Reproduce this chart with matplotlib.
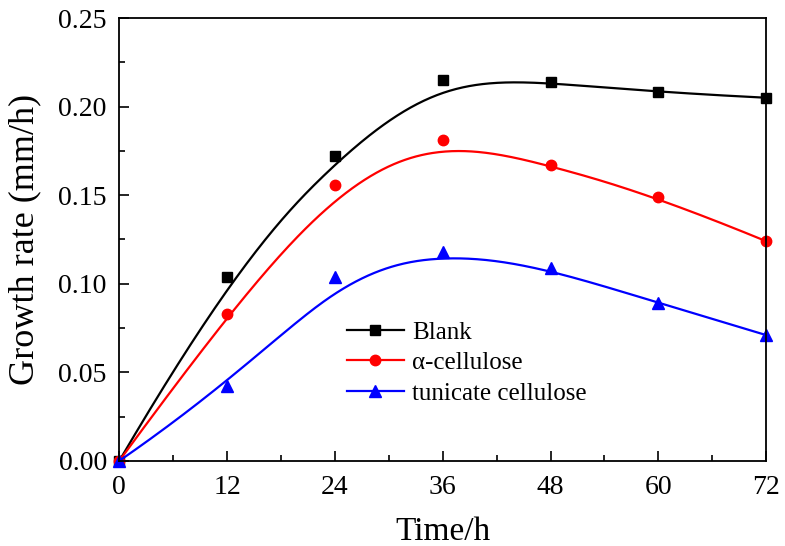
import numpy as np
import matplotlib
matplotlib.use("Agg")
from matplotlib import pyplot as plt
from matplotlib.ticker import MultipleLocator, FormatStrFormatter

time_h = [0, 12, 24, 36, 48, 60, 72]
blank = [0.0, 0.104, 0.172, 0.215, 0.214, 0.208, 0.205]
alpha_cell = [0.0, 0.083, 0.156, 0.181, 0.167, 0.149, 0.124]
tunicate = [0.0, 0.042, 0.104, 0.118, 0.109, 0.089, 0.071]

plt.rcParams['font.family'] = ['Liberation Serif', 'DejaVu Serif']


def bspline(px, py, k=3, n=400):
    # clamped B-spline using the data points as control points
    px = np.asarray(px, float)
    py = np.asarray(py, float)
    m = len(px)
    knots = np.concatenate([np.zeros(k), np.linspace(0, 1, m - k + 1), np.ones(k)])
    t = np.linspace(0, 1, n)
    t[-1] = 1 - 1e-12
    B = np.zeros((n, len(knots) - 1))
    for i in range(len(knots) - 1):
        B[:, i] = (t >= knots[i]) & (t < knots[i + 1])
    for d in range(1, k + 1):
        Bn = np.zeros((n, len(knots) - 1 - d))
        for i in range(len(knots) - 1 - d):
            a = knots[i + d] - knots[i]
            b = knots[i + d + 1] - knots[i + 1]
            left = (t - knots[i]) / a * B[:, i] if a > 0 else 0
            right = (knots[i + d + 1] - t) / b * B[:, i + 1] if b > 0 else 0
            Bn[:, i] = left + right
        B = Bn
    return B @ px, B @ py


fig = plt.figure(figsize=(7.85, 5.46), dpi=100)
ax = fig.add_axes([0.152, 0.156, 0.824, 0.811])

series = [
    (blank, 'black', 's', 'Blank', 6.5),
    (alpha_cell, 'red', 'o', '\u03b1-cellulose', 7.5),
    (tunicate, 'blue', '^', 'tunicate cellulose', 8),
]
for vals, col, mk, lab, ms in series:
    cx, cy = bspline(time_h, vals)
    ax.plot(cx, cy, color=col, lw=1.6, clip_on=False)
    ax.plot(time_h, vals, linestyle='none', marker=mk, color=col, ms=ms, clip_on=False)
    ax.plot([], [], color=col, marker=mk, ms=ms, lw=1.6, label=lab)

ax.set_xlim(0, 72)
ax.set_ylim(0, 0.25)
ax.xaxis.set_major_locator(MultipleLocator(12))
ax.xaxis.set_minor_locator(MultipleLocator(6))
ax.yaxis.set_major_locator(MultipleLocator(0.05))
ax.yaxis.set_minor_locator(MultipleLocator(0.025))
ax.yaxis.set_major_formatter(FormatStrFormatter('%.2f'))
ax.tick_params(which='both', direction='in', top=False, right=False, labelsize=20)
ax.tick_params(axis='x', pad=10)
ax.tick_params(axis='y', pad=9)
ax.tick_params(which='major', length=7, width=1.2)
ax.tick_params(which='minor', length=4, width=1.2)
for sp in ax.spines.values():
    sp.set_linewidth(1.3)

ax.set_xlabel('Time/h', fontsize=24, labelpad=12)
ax.set_ylabel('Growth rate (mm/h)', fontsize=26, labelpad=12)

ax.legend(loc='center left', bbox_to_anchor=(0.336, 0.221), frameon=False,
          fontsize=18, handlelength=2.3, labelspacing=0.32, handletextpad=0.32,
          borderaxespad=0)

fig.savefig('out.png', dpi=100)
